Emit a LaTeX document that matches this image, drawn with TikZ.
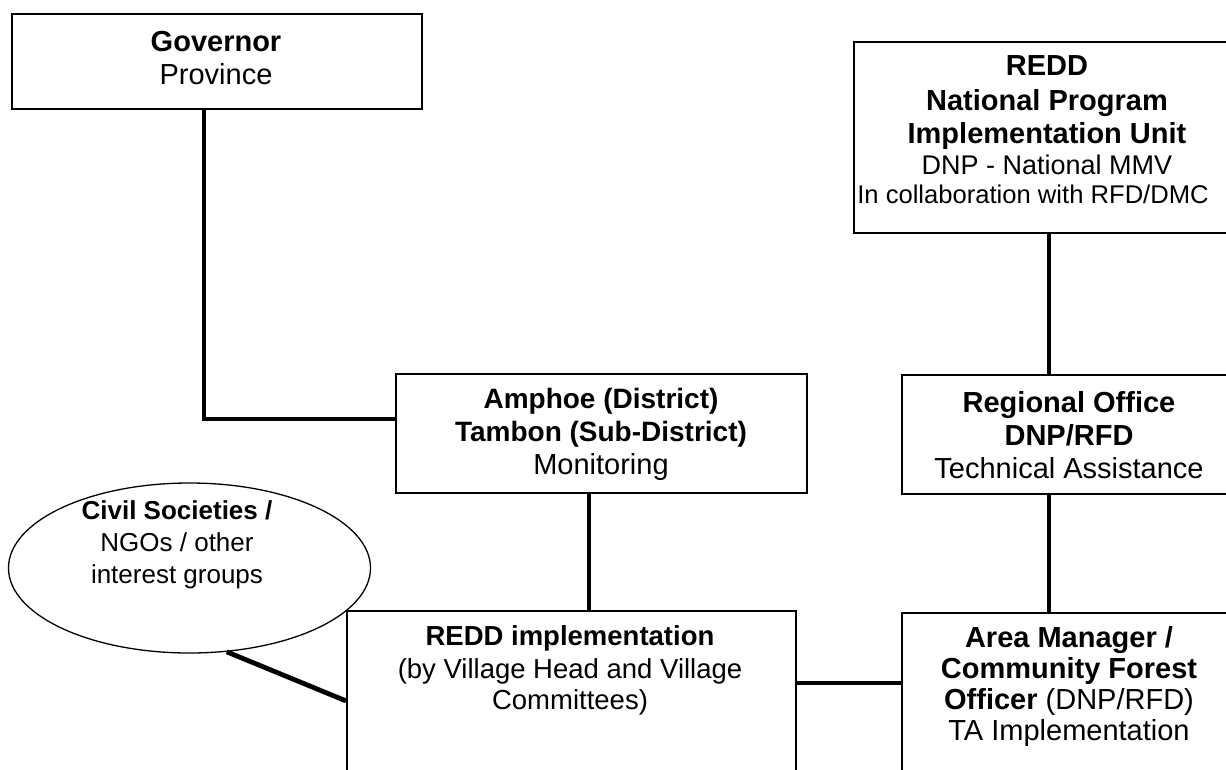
\documentclass[tikz,border=0pt]{standalone}
\usepackage{fontspec}
\setmainfont{Liberation Sans}
\usetikzlibrary{shapes.geometric}
\begin{document}
\begin{tikzpicture}[x=1pt,y=-1pt,
  box/.style={draw, line width=1.8pt, inner sep=0pt, anchor=north west, fill=white},
  txt/.style={align=center, inner sep=0pt, font=\fontsize{29}{33}\selectfont},
  conn/.style={line width=4.8pt}]
\useasboundingbox (0,0) rectangle (1226,769);
\clip (0,0) rectangle (1226,769);
\fill[white] (0,0) rectangle (1226,769);

% boxes
\node[draw, ellipse, line width=1.3pt, minimum width=362pt, minimum height=170pt, inner sep=0pt, fill=white] (civ) at (189.5,568) {};
\node[box, minimum width=410pt, minimum height=95pt] (gov) at (11,13) {};
\node[box, minimum width=411pt, minimum height=119pt] (amph) at (395,373) {};
\node[box, minimum width=390pt, minimum height=191pt] (npiu) at (853,41) {};
\node[box, minimum width=340pt, minimum height=119pt] (reg) at (901,374) {};
\node[box, minimum width=340pt, minimum height=200pt] (area) at (901,612) {};
\node[box, minimum width=449pt, minimum height=200pt] (impl) at (346,610) {};

% texts
\node[txt] (govt) at (216,58) {\textbf{Governor}\\Province};
\node[txt] (ampht) at (601,434) {{\fontsize{28}{33}\selectfont\textbf{Amphoe (District)}}\\{\fontsize{28}{33}\selectfont\textbf{Tambon (Sub-District)}}\\Monitoring};
\node[txt] (npiut) at (1047,130) {\textbf{REDD}\\[2pt]\textbf{National Program}\\\textbf{Implementation Unit}\\[-2pt]{\fontsize{27}{30}\selectfont DNP - National MMV}\\[-4pt]{\fontsize{25.6}{28}\selectfont In collaboration with RFD/DMC\hspace*{28pt}}};
\node[txt] (regt) at (1069,435) {\textbf{Regional Office}\\\textbf{DNP/RFD}\\Technical Assistance};
\node[txt] (areat) at (1069,686) {\textbf{Area Manager /}\\[-2pt]\textbf{Community Forest}\\[-2pt]\textbf{Officer} (DNP/RFD)\\[-2pt]TA Implementation};
\node[txt, font=\fontsize{27.5}{33}\selectfont] (implt) at (570,670) {\textbf{REDD implementation}\\(by Village Head and Village\\[-2pt]Committees)};
\node[txt, font=\fontsize{26}{32}\selectfont] (civt) at (177,545) {\textbf{Civil Societies /}\\NGOs / other\\interest groups};

% connectors
\draw[conn] ([xshift=-13pt]gov.south) |- ([yshift=14.5pt]amph.west);
\draw[conn] ([xshift=-12.5pt]amph.south) -- ([xshift=-12.5pt]amph.south |- impl.north);
\draw[conn] (npiu.south) -- (npiu.south |- reg.north);
\draw[conn] (npiu.south |- reg.south) -- (npiu.south |- area.north);
\draw[conn] ([yshift=28pt]impl.east) -- ([yshift=28pt]impl.east -| area.west);
\draw[conn] (civ.-66) -- ([yshift=10pt]impl.west);
\end{tikzpicture}
\end{document}
